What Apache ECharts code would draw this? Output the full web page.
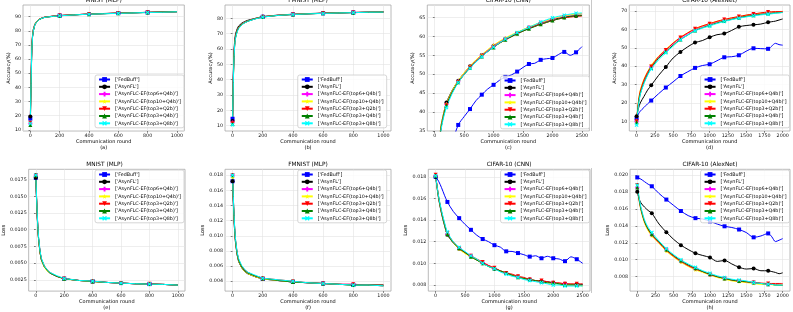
<!DOCTYPE html>
<html><head><meta charset="utf-8">
<script src="https://cdn.jsdelivr.net/npm/echarts@6/dist/echarts.min.js"></script>
<style>html,body{margin:0;padding:0;background:#fff}#c{width:793px;height:312px}</style>
</head><body><div id="c"></div><script>
// ---------- data ----------
const methods = ["['FedBuff']", "['AsynFL']", "['AsynFLC-EF(top6+Q4b)']", "['AsynFLC-EF(top10+Q4b)']",
  "['AsynFLC-EF(top3+Q2b)']", "['AsynFLC-EF(top3+Q4b)']", "['AsynFLC-EF(top3+Q8b)']"];

const xMnist = [0,5,10,15,20,30,40,60,80,100,150,200,300,400,500,600,700,800,900,1000];
const xCnn = [0,50,100,150,200,300,400,500,600,700,800,900,1000,1100,1200,1300,1400,1500,1600,1700,1800,1900,2000,2100,2200,2300,2400,2500];
const xAlex = [0,25,50,100,150,200,300,400,500,600,700,800,900,1000,1100,1200,1300,1400,1500,1600,1700,1800,1850,1900,1950,2000];

const ticksX1000 = [0,200,400,600,800,1000];
const ticksX2500 = [0,500,1000,1500,2000,2500];
const ticksX2000 = [0,250,500,750,1000,1250,1500,1750,2000];
const ticksAccMnist = [10,20,30,40,50,60,70,80,90];
const ticksAccFmnist = [10,20,30,40,50,60,70,80];
const ticksAccCnn = [35,40,45,50,55,60,65];
const ticksAccAlex = [10,20,30,40,50,60,70];
const ticksLossMnist = [0.0025,0.0050,0.0075,0.0100,0.0125,0.0150,0.0175];
const ticksLossFmnist = [0.004,0.006,0.008,0.010,0.012,0.014,0.016,0.018];
const ticksLossCnn = [0.008,0.010,0.012,0.014,0.016,0.018];
const ticksLossAlex = [0.008,0.010,0.012,0.014,0.016,0.018,0.020];

const accMnist = [
  [18,45,68,76,80,84,86,88,89,89.6,90.2,90.7,91.3,91.8,92.1,92.5,92.7,93.0,93.2,93.5],
  [19.5,48,70,77,81,84.5,86.3,88.2,89.1,89.7,90.3,90.8,91.3,91.8,92.2,92.5,92.8,93.0,93.3,93.5],
  [14.5,44,67,76,80,84,86,88,89,89.6,90.2,90.7,91.3,91.8,92.1,92.5,92.7,93.0,93.2,93.5],
  [15,45,68,76.5,80.5,84.2,86.2,88.1,89,89.6,90.2,90.7,91.3,91.8,92.1,92.5,92.7,93.0,93.2,93.5],
  [15,44,67,76,80,84,86,88,89,89.6,90.2,90.7,91.3,91.8,92.1,92.4,92.7,93.0,93.2,93.4],
  [13.5,42,66,75.5,79.5,83.8,85.8,87.8,88.8,89.5,90.1,90.6,91.2,91.7,92.0,92.4,92.6,92.9,93.2,93.4],
  [14.5,43,66.5,75.5,79.8,83.8,85.9,87.9,88.9,89.5,90.1,90.6,91.2,91.7,92.0,92.3,92.6,92.9,93.1,93.4]
];
const accFmnist = [
  [14.5,42,58,65,68.5,72,74,76,77.3,78.2,79.8,81,82,82.6,83,83.3,83.6,83.8,84.0,84.2],
  [13,44,60,66.5,70,73,75,76.8,77.9,78.7,80,81.2,82.1,82.7,83.1,83.4,83.6,83.8,84.0,84.2],
  [12,40,57,64.5,68,71.8,73.8,76,77.3,78.2,79.8,81,82,82.6,83,83.3,83.6,83.8,84.0,84.2],
  [11.5,40,57,64.5,68,71.8,73.8,76,77.3,78.2,79.8,81,82,82.6,83,83.3,83.6,83.8,84.0,84.2],
  [11.5,39,56,64,67.5,71.5,73.5,75.8,77.1,78.1,79.7,80.9,81.9,82.5,82.9,83.3,83.5,83.8,84.0,84.2],
  [11,39,56,64,67.5,71.5,73.5,75.8,77.1,78.1,79.7,80.9,81.9,82.5,82.9,83.3,83.5,83.7,84.0,84.1],
  [10.5,38,55,63.5,67,71,73.2,75.6,77,78,79.6,80.8,81.9,82.5,82.9,83.2,83.5,83.7,84.0,84.1]
];
const accCnn = [
  [10,15,20,24,27,32,36.6,38.8,40.8,43,44.6,46.1,47.2,48.4,49.3,49.8,50.7,51.8,52.7,52.9,53.8,54.1,54.3,55.2,55.9,55.0,55.8,57.3],
  [10,24,35.5,39.5,42.5,45.8,48.3,50.3,52.1,53.7,55.1,56.3,57.5,58.5,59.4,60.2,60.9,61.7,62.3,62.9,63.5,64.0,64.4,64.8,65.1,65.3,65.4,65.5],
  [10,23.5,35,39.2,42,45.5,48.1,50.2,52.0,53.6,55.0,56.3,57.5,58.5,59.4,60.2,60.9,61.7,62.4,63.0,63.6,64.1,64.6,65.0,65.3,65.6,65.8,66.0],
  [10,24,35.5,39.5,42.2,45.7,48.3,50.4,52.2,53.8,55.2,56.5,57.7,58.7,59.6,60.4,61.1,61.8,62.5,63.1,63.7,64.2,64.7,65.1,65.4,65.7,65.9,66.0],
  [10,23,34.8,39,41.8,45.3,47.9,49.9,51.8,53.3,54.7,56.0,57.2,58.2,59.1,59.9,60.7,61.4,62.1,62.7,63.2,63.7,64.2,64.6,64.9,65.1,65.3,65.4],
  [10,23,34.8,39,41.8,45.3,47.9,49.9,51.7,53.3,54.7,56.0,57.1,58.2,59.1,59.9,60.7,61.4,62.0,62.6,63.2,63.7,64.2,64.6,65.0,65.3,65.5,65.6],
  [10,22.5,34.3,38.5,41.2,45,47.8,49.9,51.6,53.2,54.6,56.0,57.2,58.3,59.3,60.2,61.0,61.7,62.4,63.1,63.8,64.4,64.9,65.3,65.6,65.9,66.1,66.2]
];
const accAlex = [
  [11.5,14,15.5,17.5,19.5,21.3,25,28.4,31.5,34.7,37,39.1,40.4,41.1,43,44.9,45.2,46.0,48.2,49.8,49.6,49.5,51,52.5,51.8,51.5],
  [12.8,17,20,23.5,27,29.6,35,39.6,44.5,47.8,50.6,52.9,54,55.8,57.2,57.8,59.5,61.5,62.2,62.6,63,64,64.3,64.6,65.2,65.8],
  [9.8,20,25.5,31.5,36,39.5,44.8,48.6,52.3,55.3,57.8,60.1,61.7,63,64.2,65.3,66.1,66.9,67.6,68.3,68.8,69.3,69.4,69.5,69.6,69.7],
  [10.5,21,27,33,37,40.5,45.5,49.2,52.8,55.8,58.3,60.5,62,63.3,64.5,65.5,66.3,67.1,67.8,68.4,69,69.5,69.6,69.7,69.8,69.9],
  [10,20.5,26.5,32.5,36.8,39.9,45.2,48.9,52.6,55.7,58.2,60.4,62,63.2,64.5,65.5,66.4,67.1,67.9,68.5,69.1,69.6,69.7,69.8,69.8,69.9],
  [9.5,19.5,25,31,35.5,39,44.3,48,51.5,54.6,57,59.5,61,62.4,63.6,64.7,65.6,66.5,67.2,67.8,68.3,68.7,68.9,69.1,69.2,69.4],
  [8,18.5,24.5,30.5,35,38.5,43.5,47.3,51,54.4,57,59.3,60.8,62,63.3,64.4,65.4,66.2,66.9,67.5,68,68.4,68.6,68.9,69.1,69.3]
];
const lossMnist = [
  [0.0178,0.0148,0.0121,0.0100,0.0085,0.0066,0.0055,0.0045,0.0039,0.0035,0.0030,0.00265,0.0024,0.00225,0.0021,0.0020,0.0019,0.00185,0.0018,0.0017],
  [0.0178,0.0147,0.0120,0.0099,0.0084,0.0065,0.0054,0.0044,0.0039,0.0035,0.0030,0.00265,0.0024,0.00225,0.0021,0.0020,0.0019,0.00185,0.0018,0.0017],
  [0.0182,0.0150,0.0123,0.0101,0.0086,0.0066,0.0055,0.0045,0.0039,0.0035,0.0030,0.00265,0.0024,0.00225,0.0021,0.0020,0.0019,0.00185,0.0018,0.0017],
  [0.0181,0.0149,0.0121,0.0099,0.0084,0.0065,0.0054,0.0044,0.0038,0.0035,0.0030,0.0026,0.0024,0.0022,0.0021,0.0020,0.0019,0.00185,0.0018,0.0017],
  [0.0182,0.0151,0.0124,0.0102,0.0087,0.0067,0.0056,0.0046,0.0040,0.0036,0.0030,0.0027,0.0024,0.0023,0.0021,0.0020,0.0019,0.0019,0.0018,0.0017],
  [0.0182,0.0150,0.0123,0.0101,0.0086,0.0066,0.0055,0.0045,0.0039,0.0035,0.0030,0.00265,0.0024,0.00225,0.0021,0.0020,0.0019,0.00185,0.0018,0.0017],
  [0.0182,0.0152,0.0125,0.0103,0.0088,0.0068,0.0057,0.0046,0.0040,0.0036,0.0031,0.0027,0.0024,0.0023,0.0021,0.0020,0.0019,0.00185,0.0018,0.0017]
];
const lossFmnist = [
  [0.0172,0.0145,0.0121,0.0103,0.0091,0.0076,0.0067,0.0058,0.0053,0.0050,0.0046,0.0043,0.0041,0.0039,0.0038,0.0037,0.0036,0.0035,0.0035,0.0034],
  [0.0172,0.0144,0.0120,0.0102,0.0090,0.0075,0.0066,0.0058,0.0053,0.0050,0.0046,0.0043,0.0041,0.0039,0.0038,0.0037,0.0036,0.0035,0.0035,0.0034],
  [0.0180,0.0150,0.0125,0.0106,0.0093,0.0077,0.0068,0.0059,0.0054,0.0051,0.0047,0.0044,0.0041,0.0039,0.0038,0.0037,0.0036,0.0036,0.0035,0.0035],
  [0.0177,0.0147,0.0122,0.0104,0.0091,0.0076,0.0067,0.0058,0.0053,0.0050,0.0046,0.0043,0.0041,0.0039,0.0038,0.0037,0.0036,0.0035,0.0035,0.0034],
  [0.0180,0.0151,0.0126,0.0107,0.0094,0.0078,0.0069,0.0060,0.0055,0.0052,0.0047,0.0044,0.0042,0.0040,0.0038,0.0037,0.0036,0.0036,0.0035,0.0035],
  [0.0180,0.0150,0.0125,0.0106,0.0093,0.0077,0.0068,0.0059,0.0054,0.0051,0.0047,0.0044,0.0041,0.0039,0.0038,0.0037,0.0036,0.0035,0.0035,0.0035],
  [0.0180,0.0152,0.0127,0.0108,0.0095,0.0079,0.0070,0.0061,0.0056,0.0052,0.0048,0.0044,0.0042,0.0040,0.0038,0.0037,0.0036,0.0035,0.0035,0.0034]
];
const lossCnn = [
  [0.0180,0.0176,0.0170,0.0163,0.01568,0.0148,0.01418,0.0136,0.0131,0.0126,0.01225,0.0120,0.01168,0.0115,0.01111,0.0111,0.01095,0.0108,0.01062,0.0107,0.01047,0.01065,0.01047,0.0104,0.0102,0.0106,0.01038,0.0100],
  [0.0180,0.0160,0.0146,0.0135,0.01265,0.0119,0.01135,0.0110,0.01065,0.0103,0.0100,0.00975,0.0095,0.0093,0.0091,0.0089,0.00875,0.0086,0.0085,0.0084,0.00835,0.0083,0.0082,0.0081,0.0081,0.00805,0.00805,0.00805],
  [0.0181,0.0161,0.0147,0.0136,0.0127,0.0119,0.01138,0.0110,0.0107,0.0103,0.01005,0.0098,0.0095,0.0093,0.0091,0.0089,0.00875,0.0086,0.0085,0.0084,0.0083,0.0082,0.0082,0.0081,0.0081,0.0080,0.0080,0.0080],
  [0.0181,0.0161,0.0147,0.0136,0.0127,0.0119,0.0113,0.0109,0.0106,0.0103,0.0100,0.0097,0.0095,0.0093,0.0091,0.0089,0.0087,0.0086,0.0085,0.0084,0.0083,0.0082,0.0081,0.0081,0.0080,0.0080,0.0080,0.0079],
  [0.0182,0.0162,0.0148,0.0137,0.0128,0.0120,0.0114,0.0110,0.0107,0.0104,0.01012,0.0098,0.0096,0.0093,0.0091,0.0090,0.0088,0.0087,0.0085,0.0084,0.0084,0.0083,0.0082,0.0082,0.0081,0.0081,0.0081,0.0081],
  [0.0181,0.0161,0.0147,0.0136,0.0127,0.0119,0.0114,0.0110,0.0106,0.0103,0.0100,0.0097,0.0095,0.0093,0.0091,0.0089,0.0087,0.0086,0.0085,0.0084,0.0083,0.0082,0.0082,0.0081,0.0080,0.0080,0.0080,0.0080],
  [0.0181,0.0162,0.0149,0.0138,0.0129,0.0120,0.01148,0.0111,0.0107,0.0104,0.0100,0.0097,0.0095,0.0092,0.0090,0.0088,0.0087,0.0085,0.0084,0.0083,0.0082,0.0081,0.0080,0.0080,0.0079,0.0079,0.0079,0.0079]
];
const lossAlex = [
  [0.0197,0.0196,0.0195,0.0192,0.0189,0.01866,0.0178,0.01709,0.0164,0.01574,0.0152,0.0149,0.0148,0.01452,0.0142,0.01394,0.0138,0.01356,0.0132,0.01264,0.0128,0.0131,0.0127,0.01214,0.0123,0.01249],
  [0.0180,0.0172,0.0167,0.0162,0.0158,0.01548,0.0142,0.01325,0.0124,0.01172,0.0112,0.01076,0.0105,0.01026,0.0098,0.00991,0.0095,0.00911,0.0089,0.00896,0.0087,0.0087,0.0086,0.0085,0.00835,0.00846],
  [0.0185,0.0170,0.0159,0.0144,0.0135,0.0129,0.0120,0.0112,0.0104,0.0098,0.0093,0.0089,0.0086,0.0082,0.0080,0.0078,0.0076,0.0075,0.0074,0.0073,0.0072,0.0071,0.0071,0.0071,0.0070,0.0070],
  [0.0188,0.0170,0.0158,0.0143,0.0134,0.0128,0.0119,0.0110,0.0103,0.0097,0.0092,0.0088,0.0085,0.0082,0.0079,0.0077,0.0075,0.0074,0.0073,0.0072,0.0071,0.0071,0.00705,0.0070,0.0070,0.0070],
  [0.0188,0.0172,0.0160,0.0145,0.0136,0.0129,0.0120,0.0111,0.0104,0.0098,0.0093,0.0089,0.0086,0.00825,0.0080,0.0078,0.0076,0.00745,0.0074,0.0073,0.00725,0.0072,0.0072,0.0072,0.0072,0.0072],
  [0.0185,0.0171,0.0160,0.0145,0.0136,0.0130,0.0121,0.0112,0.0105,0.0099,0.0094,0.0090,0.0086,0.0083,0.0080,0.0078,0.0076,0.0075,0.0074,0.0073,0.0072,0.0071,0.0071,0.0070,0.0070,0.0070],
  [0.0188,0.0174,0.0162,0.0147,0.0138,0.0132,0.0122,0.0113,0.0106,0.0100,0.0095,0.0091,0.0087,0.0084,0.0081,0.0079,0.0077,0.0076,0.0075,0.0073,0.0072,0.0071,0.0071,0.0070,0.0070,0.0070]
];

// ---------- styles ----------
const colors = ['#0000ff','#000000','#ff00ff','#ffff00','#ff0000','#008000','#00ffff'];
const symbols = ['rect','circle',
  'path://M3,0H7V3H10V7H7V10H3V7H0V3H3Z',
  'path://M5,0L6.2,3.6L10,3.6L6.9,5.8L8.1,9.5L5,7.2L1.9,9.5L3.1,5.8L0,3.6L3.8,3.6Z',
  'path://M0,0L10,0L5,9Z',
  'triangle',
  'path://M0,2L2,0L5,3L8,0L10,2L7,5L10,8L8,10L5,7L2,10L0,8L3,5Z'];
const FONT = 'DejaVu Sans';

const panels = [
  {g:[23,5,161.3,126], xs:xMnist, rows:accMnist, xr:[-50,1050], xt:ticksX1000, yr:[9.2,98.2], yt:ticksAccMnist, title:'MNIST (MLP)', tag:'(a)', yn:'Accuracy(%)', yg:8.5, lg:[609,75], dec:0, sm:false},
  {g:[225,5,166,126], xs:xMnist, rows:accFmnist, xr:[-50,1050], xt:ticksX1000, yr:[6.5,88.7], yt:ticksAccFmnist, title:'FMNIST (MLP)', tag:'(b)', yn:'Accuracy(%)', yg:8.5, lg:[406.3,75], dec:0, sm:false},
  {g:[427.3,5,162,126], xs:xCnn, rows:accCnn, xr:[-125,2625], xt:ticksX2500, yr:[35,68.3], yt:ticksAccCnn, title:'CIFAR-10 (CNN)', tag:'(c)', yn:'Accuracy(%)', yg:9.5, lg:[203.5,76], dec:0, sm:0.3},
  {g:[629.3,5,160.7,126], xs:xAlex, rows:accAlex, xr:[-100,2100], xt:ticksX2000, yr:[4.7,73.4], yt:ticksAccAlex, title:'CIFAR-10 (AlexNet)', tag:'(d)', yn:'Accuracy(%)', yg:7.5, lg:[3.5,75], dec:0, sm:0.3},
  {g:[24,169.3,161,125], xs:xMnist, rows:lossMnist, xr:[-50,1050], xt:ticksX1000, yr:[0.0008,0.01906], yt:ticksLossMnist, title:'MNIST (MLP)', tag:'(e)', yn:'Loss', yg:17, lg:[609,170], dec:4, sm:false},
  {g:[225,169.3,166,125], xs:xMnist, rows:lossFmnist, xr:[-50,1050], xt:ticksX1000, yr:[0.0027,0.01877], yt:ticksLossFmnist, title:'FMNIST (MLP)', tag:'(f)', yn:'Loss', yg:16, lg:[406.3,170], dec:3, sm:false},
  {g:[428.3,169.3,161.7,125], xs:xCnn, rows:lossCnn, xr:[-125,2625], xt:ticksX2500, yr:[0.00743,0.0187], yt:ticksLossCnn, title:'CIFAR-10 (CNN)', tag:'(g)', yn:'Loss', yg:15.5, lg:[203.5,170], dec:3, sm:0.3},
  {g:[630,169.3,160,125], xs:xAlex, rows:lossAlex, xr:[-100,2100], xt:ticksX2000, yr:[0.0063,0.02066], yt:ticksLossAlex, title:'CIFAR-10 (AlexNet)', tag:'(h)', yn:'Loss', yg:14.5, lg:[3.5,170], dec:3, sm:0.3}
];

const option = {animation:false, textStyle:{fontFamily:FONT}, title:[], grid:[], xAxis:[], yAxis:[], legend:[], series:[],
  graphic:[
    {type:'line', shape:{x1:591.5,y1:0,x2:591.5,y2:131}, style:{stroke:'#c8c8c8', lineWidth:1}},
    {type:'line', shape:{x1:591.5,y1:168,x2:591.5,y2:293}, style:{stroke:'#c8c8c8', lineWidth:1}}
  ]};

panels.forEach((p, gi) => {
  const [L,T,W,H] = p.g;
  option.grid.push({left:L, top:T, width:W, height:H, show:true, borderColor:'#a8a8a8', borderWidth:0.8, backgroundColor:'#fff', containLabel:false});
  option.title.push({text:p.title, left:L+W/2, top:T<50 ? -2.2 : 161.3, textAlign:'center', padding:0,
    textStyle:{fontSize:5.8, fontWeight:'normal', color:'#000', fontFamily:FONT}});
  option.xAxis.push({type:'value', gridIndex:gi, min:p.xr[0], max:p.xr[1],
    name:'Communication round\n' + p.tag, nameLocation:'middle', nameGap:5.5,
    nameTextStyle:{fontSize:5, lineHeight:6, color:'#000', fontFamily:FONT},
    axisLine:{show:false},
    axisTick:{show:true, length:1.8, inside:false, customValues:p.xt, lineStyle:{color:'#333', width:0.6}},
    axisLabel:{fontSize:4.8, color:'#111', margin:2, customValues:p.xt, fontFamily:FONT,
      formatter:(v) => String(Math.round(v))},
    splitLine:{show:true, lineStyle:{color:'#e2e2e2', width:0.6}}});
  option.yAxis.push({type:'value', gridIndex:gi, min:p.yr[0], max:p.yr[1],
    name:p.yn, nameLocation:'middle', nameGap:p.yg,
    nameTextStyle:{fontSize:5, color:'#000', fontFamily:FONT},
    axisLine:{show:false},
    axisTick:{show:true, length:1.8, customValues:p.yt, lineStyle:{color:'#333', width:0.6}},
    axisLabel:{fontSize:4.8, color:'#111', margin:2, customValues:p.yt, fontFamily:FONT,
      formatter:(v) => Number(v).toFixed(p.dec)},
    splitLine:{show:true, lineStyle:{color:'#e2e2e2', width:0.6}}});
  option.legend.push({orient:'vertical', right:p.lg[0], top:p.lg[1], data:methods, selectedMode:false,
    itemWidth:11, itemHeight:6, itemGap:1.3, padding:[1.5,3,1.5,3],
    backgroundColor:'rgba(255,255,255,0.8)', borderColor:'#cccccc', borderWidth:0.8, borderRadius:2,
    textStyle:{fontSize:4.8, lineHeight:6, color:'#000', fontFamily:FONT}});
  const xEnd = p.xs[p.xs.length-1];
  p.rows.forEach((ys, k) => {
    option.series.push({type:'line', name:methods[k], xAxisIndex:gi, yAxisIndex:gi,
      symbol:symbols[k], symbolSize:4, showAllSymbol:true, smooth:p.sm, clip:true,
      lineStyle:{color:colors[k], width:1}, itemStyle:{color:colors[k]},
      data:p.xs.map((x, i) => {
        const item = {value:[x, ys[i]]};
        if (!(x % 200 === 0 && x < xEnd)) item.symbol = 'none';
        return item;
      })});
  });
});

const chart = echarts.init(document.getElementById('c'), null, {renderer:'canvas', width:793, height:312});
chart.setOption(option);
</script></body></html>
